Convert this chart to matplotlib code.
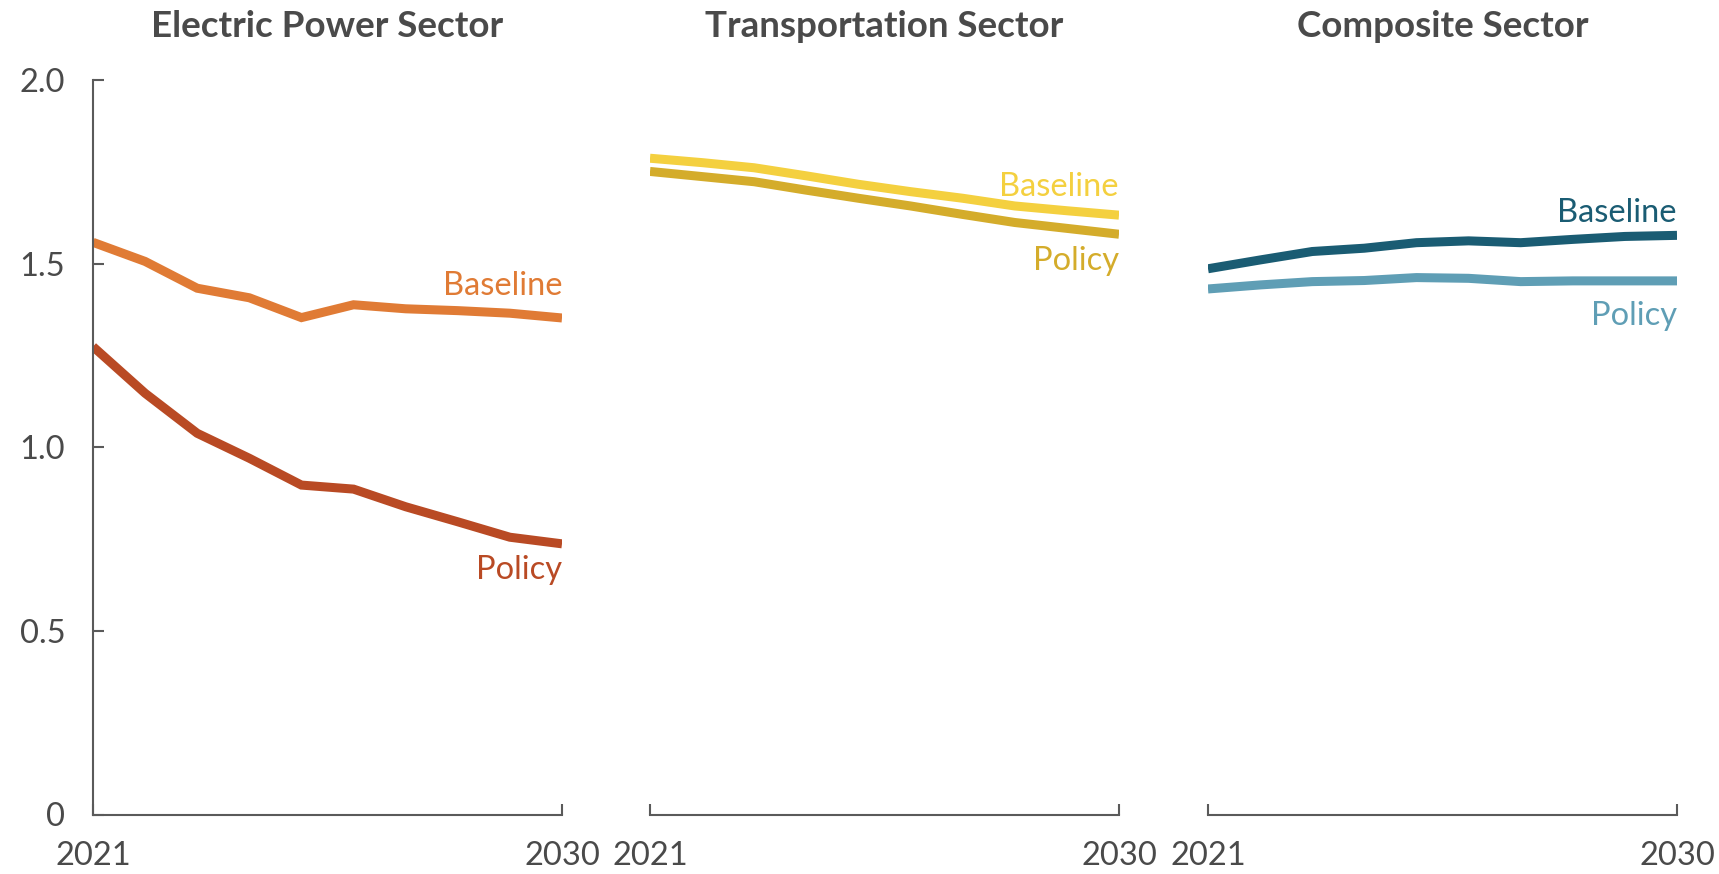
import matplotlib
matplotlib.use("Agg")
import matplotlib.pyplot as plt
import numpy as np

years = list(range(2021, 2031))
titles = ["Electric Power Sector", "Transportation Sector", "Composite Sector"]

electric_baseline = [1.558, 1.506, 1.433, 1.407, 1.353, 1.388, 1.377, 1.372, 1.365, 1.352]
electric_policy = [1.274, 1.147, 1.038, 0.970, 0.897, 0.886, 0.838, 0.797, 0.755, 0.737]
transport_baseline = [1.787, 1.775, 1.761, 1.739, 1.716, 1.696, 1.678, 1.657, 1.644, 1.632]
transport_policy = [1.751, 1.737, 1.723, 1.700, 1.678, 1.657, 1.634, 1.612, 1.596, 1.580]
composite_baseline = [1.486, 1.510, 1.533, 1.542, 1.557, 1.562, 1.557, 1.566, 1.574, 1.577]
composite_policy = [1.431, 1.442, 1.451, 1.454, 1.462, 1.460, 1.451, 1.453, 1.453, 1.453]

series = [
    (electric_baseline, electric_policy, "#E07B35", "#B94A24", 1.44, 0.666),
    (transport_baseline, transport_policy, "#F4D03F", "#D4AC2B", 1.708, 1.507),
    (composite_baseline, composite_policy, "#1A5C73", "#5F9EB5", 1.639, 1.358),
]

yticks = [0, 0.5, 1.0, 1.5, 2.0]
ytick_labels = ["0", "0.5", "1.0", "1.5", "2.0"]

plt.rcParams['font.family'] = ['Lato', 'DejaVu Sans']
text_color = "#4a4a4a"
axis_color = "#5a5a5a"

fig = plt.figure(figsize=(17.19, 8.74), dpi=100)
lefts = [93 / 1719, 650 / 1719, 1208 / 1719]
width = 469 / 1719
bottom = 1 - 814.5 / 874
height = 734.5 / 874

for i, (left, title, (base, pol, cb, cp, yb, yp)) in enumerate(zip(lefts, titles, series)):
    ax = fig.add_axes([left, bottom, width, height])
    ax.plot(years, base, color=cb, lw=6.5, solid_joinstyle='miter', solid_capstyle='butt')
    ax.plot(years, pol, color=cp, lw=6.5, solid_joinstyle='miter', solid_capstyle='butt')
    ax.set_xlim(2021, 2030)
    ax.set_ylim(0, 2.0)
    ax.set_xticks([2021, 2030])
    ax.set_xticklabels(["2021", "2030"])
    for s in ["top", "right"]:
        ax.spines[s].set_visible(False)
    ax.spines["bottom"].set_color(axis_color)
    ax.spines["bottom"].set_linewidth(1.5)
    ax.tick_params(axis='x', direction='in', length=8, width=1.5, color=axis_color,
                   labelsize=23.5, labelcolor=text_color, pad=19)
    if i == 0:
        ax.spines["left"].set_color(axis_color)
        ax.spines["left"].set_linewidth(1.5)
        ax.set_yticks(yticks)
        ax.set_yticklabels(ytick_labels)
        ax.tick_params(axis='y', direction='in', length=8, width=1.5, color=axis_color,
                       labelsize=23.5, labelcolor=text_color, pad=20)
    else:
        ax.spines["left"].set_visible(False)
        ax.set_yticks([])
    ax.set_title(title, fontsize=26.5, fontweight='bold', color=text_color, pad=31)
    ax.text(2030, yb, "Baseline", color=cb, fontsize=23.5, ha='right', va='center')
    ax.text(2030, yp, "Policy", color=cp, fontsize=23.5, ha='right', va='center')
    ax.patch.set_alpha(0)

fig.savefig("out.png", dpi=100)
